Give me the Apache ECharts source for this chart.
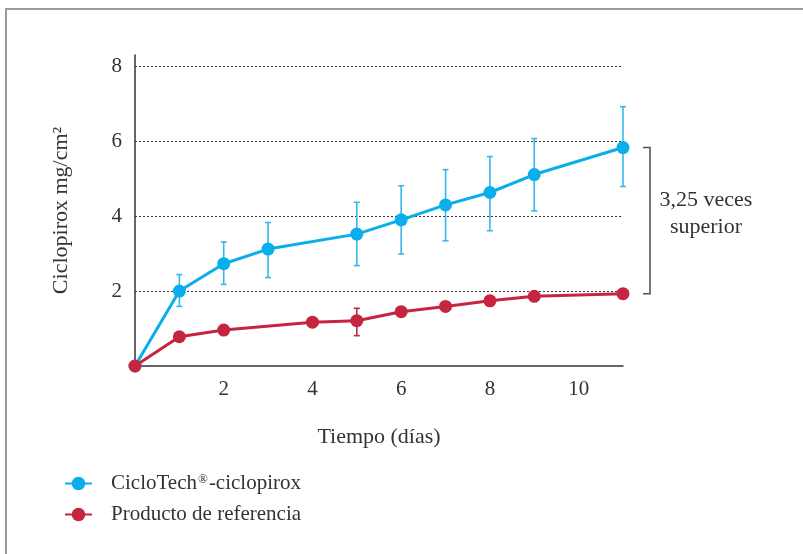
<!DOCTYPE html>
<html>
<head>
<meta charset="utf-8">
<script src="https://cdn.jsdelivr.net/npm/echarts@6/dist/echarts.min.js"></script>
<style>html,body{margin:0;padding:0;background:#fff}#c{width:803px;height:554px}</style>
</head>
<body>
<div id="c"></div>
<script>
// ---- data ----
const blueDays  = [0, 1, 2, 3, 5, 6, 7, 8, 9, 11];
const blueVals  = [0, 2.00, 2.73, 3.12, 3.52, 3.90, 4.30, 4.63, 5.11, 5.83];
const blueLow   = [null, 1.59, 2.18, 2.36, 2.68, 2.99, 3.34, 3.61, 4.14, 4.79];
const blueHigh  = [null, 2.44, 3.31, 3.83, 4.37, 4.81, 5.24, 5.59, 6.07, 6.92];
const redDays   = [0, 1, 2, 4, 5, 6, 7, 8, 9, 11];
const redVals   = [0, 0.78, 0.96, 1.17, 1.21, 1.45, 1.59, 1.74, 1.86, 1.93];
const redLow    = [null, null, null, null, 0.81, null, null, null, null, null];
const redHigh   = [null, null, null, null, 1.54, null, null, null, null, null];
const seriesNames = ['CicloTech®-ciclopirox', 'Producto de referencia'];
const xTickLabels = ['2', '4', '6', '8', '10'];
const yTickLabels = ['2', '4', '6', '8'];
const annotationText = '3,25 veces\nsuperior';
const bracketFrom = 5.83, bracketTo = 1.93, bracketX = 11;

const BLUE = '#0aaeea', BLUE_ERR = '#35b9ec', RED = '#c6253f';
const FONT = '"Liberation Serif", "Times New Roman", serif';
const TXT = '#333333';

const pairs = (xs, ys) => xs.map((x, i) => [x, ys[i]]);
const errData = (xs, lo, hi) => xs.map((x, i) => [x, lo[i], hi[i]]).filter(d => d[1] != null);

function errRender(color) {
  return function (params, api) {
    const x = api.value(0), lo = api.value(1), hi = api.value(2);
    const p1 = api.coord([x, lo]), p2 = api.coord([x, hi]);
    const w = 3;
    const st = { stroke: color, lineWidth: 1.6 };
    return { type: 'group', children: [
      { type: 'line', shape: { x1: p1[0], y1: p1[1], x2: p2[0], y2: p2[1] }, style: st },
      { type: 'line', shape: { x1: p1[0] - w, y1: p1[1], x2: p1[0] + w, y2: p1[1] }, style: st },
      { type: 'line', shape: { x1: p2[0] - w, y1: p2[1], x2: p2[0] + w, y2: p2[1] }, style: st }
    ]};
  };
}

const chart = echarts.init(document.getElementById('c'));
chart.setOption({
  animation: false,
  backgroundColor: '#fff',
  textStyle: { fontFamily: FONT },
  grid: { left: 135, right: 180, top: 55, bottom: 188 },
  xAxis: {
    type: 'value', min: 0, max: 11, interval: 2,
    axisLine: { lineStyle: { color: '#333', width: 1.5 } },
    axisTick: { show: false },
    splitLine: { show: false },
    axisLabel: {
      showMinLabel: false, showMaxLabel: false, margin: 13,
      fontFamily: FONT, fontSize: 21, color: TXT,
      formatter: v => xTickLabels.includes(String(v)) ? String(v) : ''
    },
    name: 'Tiempo (días)', nameLocation: 'middle', nameGap: 60,
    nameTextStyle: { fontFamily: FONT, fontSize: 22, color: TXT }
  },
  yAxis: {
    type: 'value', min: 0, max: 8.3, interval: 2,
    axisLine: { show: true, lineStyle: { color: '#333', width: 1.5 } },
    axisTick: { show: false },
    splitLine: { show: true, showMinLine: false, showMaxLine: false,
      lineStyle: { color: '#333', type: [2, 2], width: 1 } },
    axisLabel: {
      showMinLabel: false, showMaxLabel: false, margin: 13,
      fontFamily: FONT, fontSize: 21, color: TXT,
      formatter: v => yTickLabels.includes(String(v)) ? String(v) : ''
    },
    name: 'Ciclopirox mg/cm²', nameLocation: 'middle', nameGap: 63,
    nameTextStyle: { fontFamily: FONT, fontSize: 22, color: TXT }
  },
  legend: {
    orient: 'vertical', left: 59, top: 468, itemWidth: 27, itemHeight: 17, itemGap: 10,
    formatter: name => '{t|' + name.replace('®', '}{s|®}{t|') + '}',
    textStyle: { fontFamily: FONT, fontSize: 21, color: TXT, padding: [0, 0, 0, 14],
      rich: {
        t: { fontFamily: FONT, fontSize: 21, color: TXT },
        s: { fontFamily: FONT, fontSize: 13, color: TXT, verticalAlign: 'top', padding: [0, 1, 8, 1] }
      } },
    data: seriesNames
  },
  graphic: [
    { type: 'rect', silent: true, z: -1,
      shape: { x: 6, y: 9, width: 900, height: 700 },
      style: { fill: 'none', stroke: '#9a9a9a', lineWidth: 2 } }
  ],
  series: [
    { type: 'custom', name: 'blueErr', data: errData(blueDays, blueLow, blueHigh),
      renderItem: errRender(BLUE_ERR), z: 1, clip: false, encode: { x: 0, y: [1, 2] } },
    { type: 'custom', name: 'redErr', data: errData(redDays, redLow, redHigh),
      renderItem: errRender(RED), z: 1, clip: false, encode: { x: 0, y: [1, 2] } },
    { type: 'line', name: seriesNames[0], data: pairs(blueDays, blueVals), z: 3,
      symbol: 'circle', symbolSize: 13, showAllSymbol: true,
      lineStyle: { color: BLUE, width: 3 }, itemStyle: { color: BLUE } },
    { type: 'line', name: seriesNames[1], data: pairs(redDays, redVals), z: 4,
      symbol: 'circle', symbolSize: 13, showAllSymbol: true,
      lineStyle: { color: RED, width: 3 }, itemStyle: { color: RED } },
    { type: 'custom', name: 'bracket', clip: false, z: 2,
      data: [[bracketX, bracketFrom, bracketTo]],
      encode: { x: 0, y: [1, 2] },
      renderItem: function (params, api) {
        const top = api.coord([api.value(0), api.value(1)]);
        const bot = api.coord([api.value(0), api.value(2)]);
        const bx = top[0] + 27, tick = 7;
        const st = { stroke: '#555', lineWidth: 1.6, fill: 'none' };
        return { type: 'group', children: [
          { type: 'polyline', shape: { points: [[bx - tick, top[1]], [bx, top[1]], [bx, bot[1]], [bx - tick, bot[1]]] }, style: st },
          { type: 'text', x: bx + 56, y: (top[1] + bot[1]) / 2 - 7,
            style: { text: annotationText, fontFamily: FONT, fontSize: 22, fill: TXT,
              align: 'center', verticalAlign: 'middle', lineHeight: 27 } }
        ]};
      }
    }
  ]
});
</script>
</body>
</html>
